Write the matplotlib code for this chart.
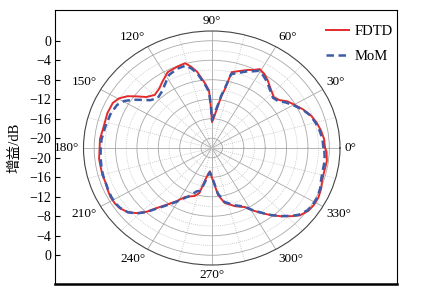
import numpy as np
import matplotlib
matplotlib.use("Agg")
import matplotlib.pyplot as plt
from matplotlib.ticker import FixedLocator

# ---------------- data ----------------
theta_deg = [0, 5, 10, 15, 20, 25, 30, 34, 38, 42, 45, 49, 53, 57, 61, 64, 67, 72,
             76.5, 78.5, 80.5, 82.5, 86, 89.5, 91, 92.5, 95, 97, 100, 103, 106, 111,
             115, 118, 121.5, 125, 128.5, 134.5, 139.5, 143, 146, 149.5, 153.5, 160,
             168, 175, 181, 186, 190.5, 195, 200, 204, 208, 212, 215.5, 220, 223.5,
             227, 230, 234, 239, 243.5, 248, 252, 256, 259, 263, 266, 270, 274, 277,
             282, 290, 297, 300.5, 305, 309, 313, 317, 320, 324.5, 328.5, 333, 338,
             342, 346, 353, 358, 360]

fdtd_db = [-0.8, -0.9, -1.25, -1.7, -2.3, -3.2, -4.2, -4.9, -6.0, -6.4, -6.0, -5.4,
           -4.6, -3.9, -3.5, -4.2, -4.6, -5.4, -6.0, -9.7, -11.3, -13.4, -15.6, -16.7,
           -13.8, -10.2, -8.9, -7.9, -6.1, -4.9, -3.9, -4.1, -4.3, -4.4, -5.1, -5.7,
           -6.3, -6.75, -5.9, -4.4, -3.0, -1.9, -1.3, -1.2, -1.3, -1.0, -1.0, -0.8,
           -0.85, -0.8, -0.9, -0.7, -0.55, -0.6, -0.8, -1.5, -2.6, -4.1, -5.9, -7.6,
           -9.3, -10.75, -11.3, -11.65, -12.5, -15.1, -16.7, -17.2, -16.0, -14.4,
           -12.3, -10.5, -9.3, -8.4, -7.2, -5.7, -4.25, -2.85, -1.5, -0.5, 0.2, 0.4,
           0.4, 0.1, -0.3, -0.4, -0.3, -0.5, -0.8]

mom_db = [-1.1, -1.2, -1.5, -1.9, -2.4, -3.3, -4.4, -5.3, -6.3, -6.6, -6.2, -5.6,
          -4.9, -4.3, -3.9, -4.5, -4.9, -5.8, -6.4, -9.3, -11.0, -13.0, -15.0, -16.3,
          -13.5, -10.5, -9.2, -8.2, -6.5, -5.3, -4.4, -4.5, -4.8, -5.0, -5.8, -6.5,
          -7.1, -7.6, -6.9, -5.6, -4.3, -3.0, -2.2, -1.8, -1.6, -1.3, -1.2, -1.1,
          -1.0, -0.9, -0.9, -0.8, -0.7, -0.7, -0.9, -1.5, -2.5, -4.0, -5.7, -7.4,
          -9.1, -10.5, -11.5, -12.6, -13.0, -14.5, -16.3, -17.0, -16.2, -14.6,
          -12.6, -10.7, -9.5, -8.5, -7.3, -5.8, -4.3, -2.9, -1.6, -0.7, 0.0, 0.2,
          0.2, -0.1, -0.5, -0.7, -0.7, -0.9, -1.1]

series_labels = ["FDTD", "MoM"]
angle_ticks = list(range(0, 360, 30))
angle_labels = [f"{a}°" for a in angle_ticks]
r_ticks = [-20, -16, -12, -8, -4, 0]
r_minor = [-18, -14, -10, -6, -2]
r_min, r_max = -22, 2
ylabel = "增益/dB"

# ---------------- figure ----------------
W, H = 425, 296
fig = plt.figure(figsize=(W / 100, H / 100), dpi=100)
serif = ["Liberation Serif", "Noto Sans CJK SC", "DejaVu Sans"]
plt.rcParams["font.family"] = serif
plt.rcParams["axes.unicode_minus"] = True

# background frame axis (left linear dB scale)
fx0, fx1, fy0, fy1 = 55, 397, 10, 284
cy = 148
px_per_db = 117 / (r_max - r_min)
ax_bg = fig.add_axes([fx0 / W, 1 - fy1 / H, (fx1 - fx0) / W, (fy1 - fy0) / H])
ax_bg.set_xlim(0, 1)
ax_bg.set_ylim(-(fy1 - cy) / px_per_db, (cy - fy0) / px_per_db)
ypos = [v - r_min for v in r_ticks] + [-(v - r_min) for v in r_ticks]
ylab = [str(v).replace("-", "\u2212") for v in r_ticks] * 2
ax_bg.set_yticks(ypos)
ax_bg.set_yticklabels(ylab, fontsize=10)
ax_bg.set_xticks([])
ax_bg.tick_params(axis="y", direction="in", length=3.5, width=0.8, pad=2.5)
for s in ["left", "top", "right"]:
    ax_bg.spines[s].set_linewidth(0.8)
ax_bg.spines["bottom"].set_linewidth(1.8)
ax_bg.set_ylabel(ylabel, fontsize=10.5, family=serif)
ax_bg.yaxis.set_label_coords((21 - fx0) / (fx1 - fx0), (fy1 - cy) / (fy1 - fy0))

# polar axis (stretched into an ellipse as in the reference)
px0, px1, py0, py1 = 83.5, 340, 31, 265
ax = fig.add_axes([px0 / W, 1 - py1 / H, (px1 - px0) / W, (py1 - py0) / H],
                  projection="polar")
ax.set_aspect("auto")
ax.set_facecolor("none")
ax.set_ylim(r_min, r_max)
ax.set_yticks(r_ticks)
ax.set_yticklabels([])
ax.yaxis.set_minor_locator(FixedLocator(r_minor))
ax.set_thetagrids(angle_ticks, labels=[""] * len(angle_ticks))
ax.xaxis.set_minor_locator(FixedLocator(np.deg2rad(np.arange(15, 360, 30))))
ax.tick_params(axis="x", which="both", length=0)
ax.tick_params(axis="y", which="both", length=0)
ax.grid(which="major", color="#a8a8a8", lw=0.6, ls="-")
ax.grid(which="minor", color="#c4c4c4", lw=0.5, ls=(0, (1.5, 1.5)))
ax.spines["polar"].set_color("#444444")
ax.spines["polar"].set_linewidth(0.8)

# angle labels anchored just outside the outer ring, aligned away from it
for a, lab in zip(angle_ticks, angle_labels):
    c, s = np.cos(np.deg2rad(a)), np.sin(np.deg2rad(a))
    ha = "left" if c > 0.1 else ("right" if c < -0.1 else "center")
    va = "bottom" if s > 0.1 else ("top" if s < -0.1 else "center")
    ax.text(np.deg2rad(a), r_max + 0.8, lab, ha=ha, va=va, fontsize=9.5,
            clip_on=False)

th = np.deg2rad(theta_deg)
ax.plot(th, fdtd_db, color="#e42b2b", lw=1.4, label=series_labels[0], zorder=3)
ax.plot(th, mom_db, color="#3d5ca8", lw=1.8, ls=(0, (3, 1.8)),
        label=series_labels[1], zorder=4)

leg = fig.legend(loc="upper left", bbox_to_anchor=(326 / W, 1 - 25 / H),
                 frameon=False, fontsize=10.5, handlelength=1.6, handletextpad=0.35,
                 borderpad=0, borderaxespad=0, labelspacing=0.8)

fig.savefig("out.png", dpi=100)
